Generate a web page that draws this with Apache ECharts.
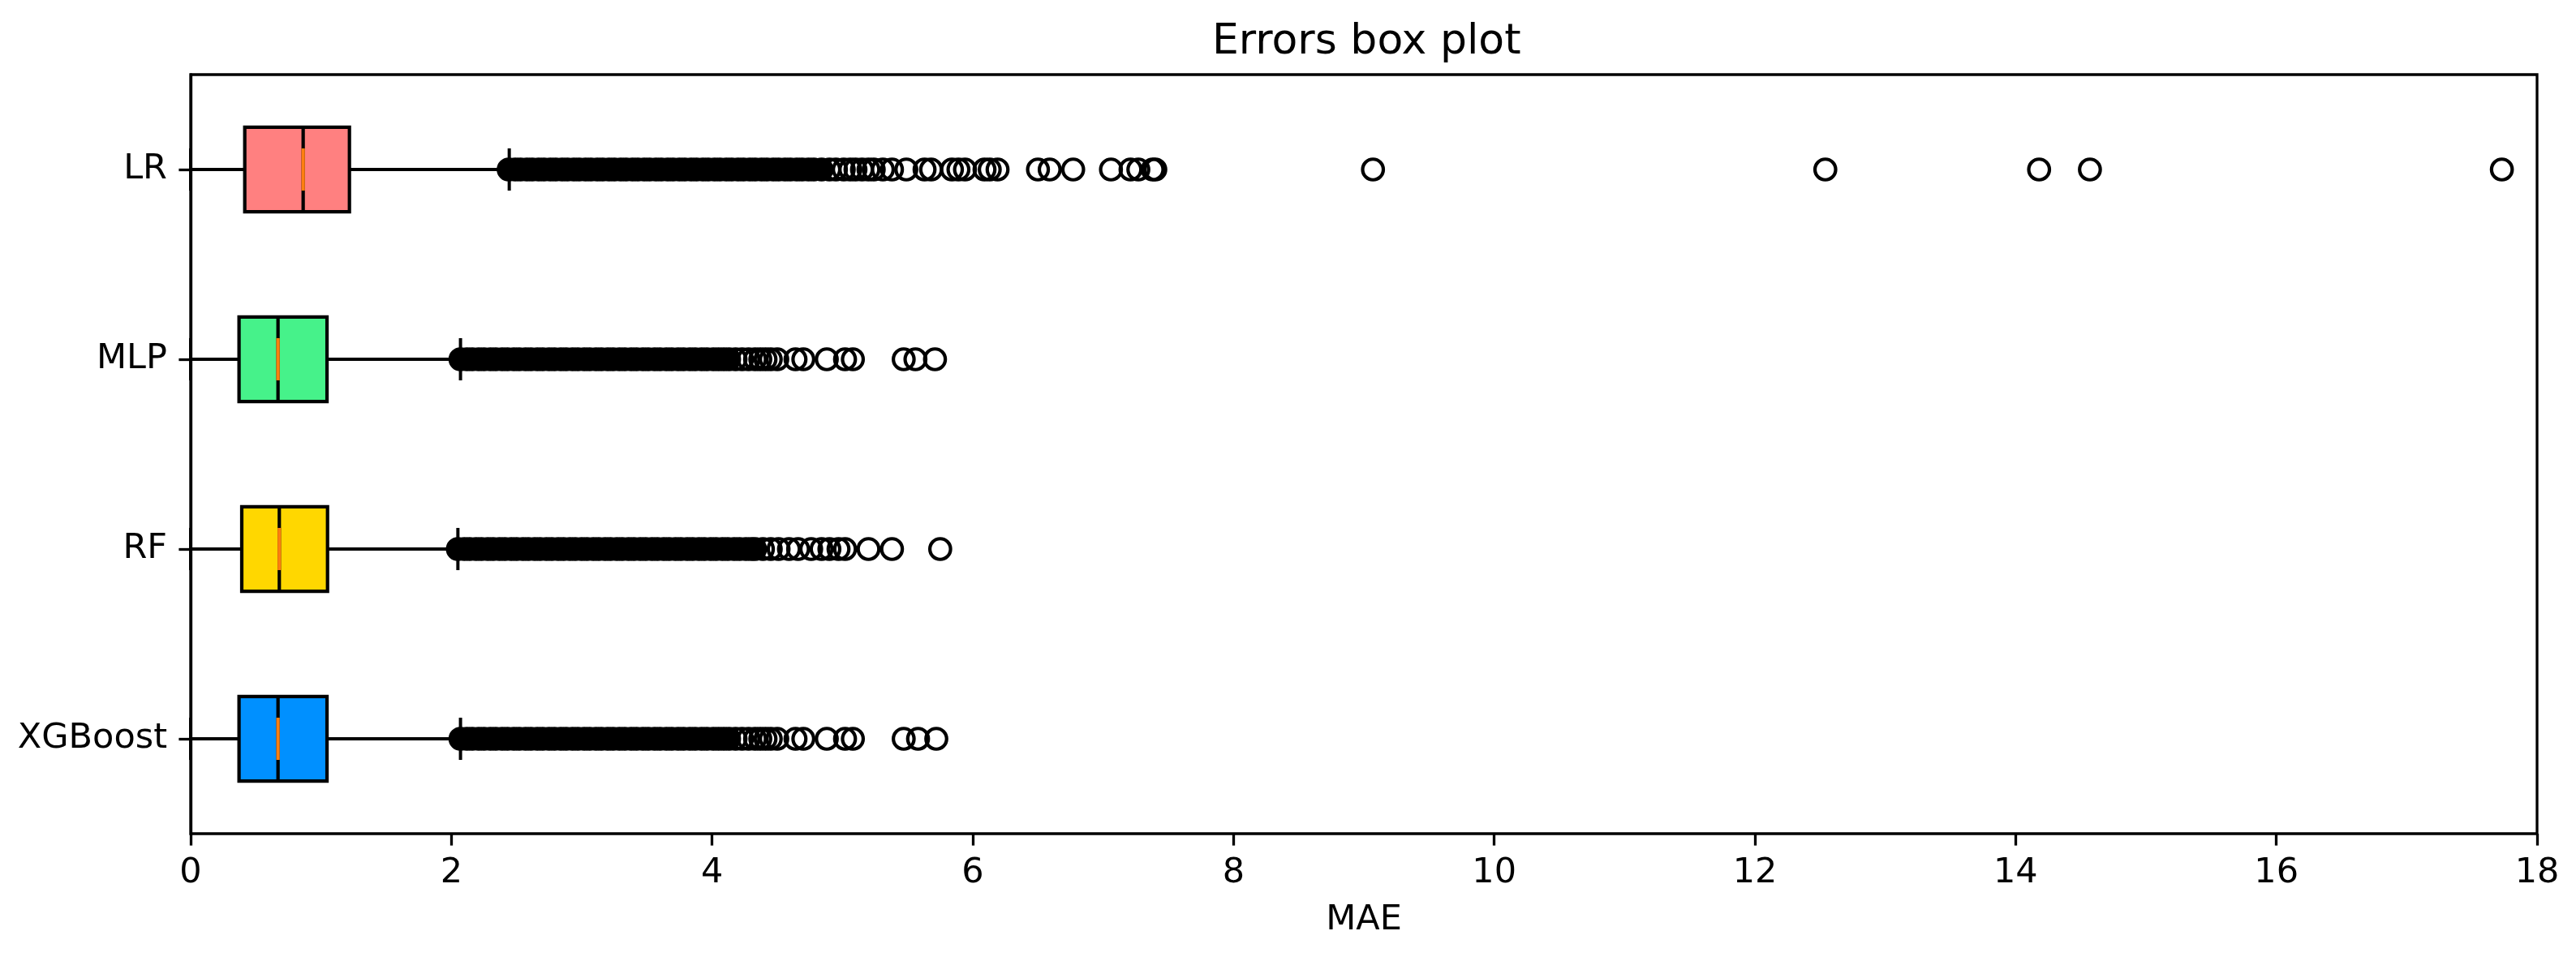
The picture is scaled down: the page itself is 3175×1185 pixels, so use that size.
<!DOCTYPE html>
<html>
<head>
<meta charset="utf-8">
<title>Errors box plot</title>
<script src="https://cdn.jsdelivr.net/npm/echarts@6/dist/echarts.min.js"></script>
<style>
  html, body { margin: 0; background: #fff; }
  #chart { width: 3175px; height: 1185px; }
</style>
</head>
<body>
<div id="chart"></div>
<script>
// categories, bottom to top
const models = ['XGBoost', 'RF', 'MLP', 'LR']
const boxColors = ['#0090ff', '#ffd700', '#46f28a', '#ff8080']
const xTicks = [0, 2, 4, 6, 8, 10, 12, 14, 16, 18]

// [min, q1, median, q3, max]
const xgbBox = [0, 0.371, 0.67, 1.046, 2.07]
const rfBox = [0, 0.392, 0.68, 1.05, 2.05]
const mlpBox = [0, 0.371, 0.67, 1.046, 2.07]
const lrBox = [0, 0.415, 0.863, 1.218, 2.444]

// outliers packed so tight they merge into a solid bar
const xgbDense = [2.07, 2.12, 2.16, 2.21, 2.25, 2.30, 2.34, 2.39, 2.43, 2.48, 2.52, 2.57, 2.61, 2.66, 2.70, 2.75, 2.79, 2.84, 2.88, 2.93, 2.97, 3.02, 3.06, 3.11, 3.15, 3.20, 3.24, 3.29, 3.33, 3.38, 3.42, 3.47, 3.51, 3.56, 3.60, 3.65, 3.69, 3.74, 3.78, 3.83, 3.87, 3.92, 3.96, 4.01, 4.05, 4.09, 4.13]
const rfDense = [2.05, 2.10, 2.14, 2.19, 2.23, 2.28, 2.32, 2.37, 2.41, 2.46, 2.50, 2.55, 2.59, 2.64, 2.68, 2.73, 2.77, 2.82, 2.86, 2.91, 2.95, 3.00, 3.04, 3.09, 3.13, 3.18, 3.22, 3.27, 3.31, 3.36, 3.40, 3.45, 3.49, 3.54, 3.58, 3.63, 3.67, 3.72, 3.76, 3.81, 3.85, 3.90, 3.94, 3.99, 4.03, 4.08, 4.12, 4.17, 4.21, 4.26, 4.30, 4.33]
const mlpDense = [2.07, 2.12, 2.16, 2.21, 2.25, 2.30, 2.34, 2.39, 2.43, 2.48, 2.52, 2.57, 2.61, 2.66, 2.70, 2.75, 2.79, 2.84, 2.88, 2.93, 2.97, 3.02, 3.06, 3.11, 3.15, 3.20, 3.24, 3.29, 3.33, 3.38, 3.42, 3.47, 3.51, 3.56, 3.60, 3.65, 3.69, 3.74, 3.78, 3.83, 3.87, 3.92, 3.96, 4.01, 4.05, 4.09, 4.13]
const lrDense = [2.44, 2.49, 2.53, 2.58, 2.62, 2.67, 2.71, 2.76, 2.80, 2.85, 2.89, 2.94, 2.98, 3.03, 3.07, 3.12, 3.16, 3.21, 3.25, 3.30, 3.34, 3.39, 3.43, 3.48, 3.52, 3.57, 3.61, 3.66, 3.70, 3.75, 3.79, 3.84, 3.88, 3.93, 3.97, 4.02, 4.06, 4.11, 4.15, 4.20, 4.24, 4.29, 4.33, 4.38, 4.42, 4.47, 4.51, 4.56, 4.60, 4.65, 4.69, 4.74, 4.78, 4.84]

// outliers still seen as separate rings
const xgbSparse = [4.18, 4.23, 4.28, 4.33, 4.37, 4.41, 4.45, 4.50, 4.64, 4.70, 4.88, 5.02, 5.08, 5.47, 5.58, 5.72]
const rfSparse = [4.39, 4.45, 4.51, 4.59, 4.66, 4.76, 4.84, 4.90, 4.97, 5.02, 5.20, 5.38, 5.75]
const mlpSparse = [4.18, 4.23, 4.28, 4.33, 4.37, 4.41, 4.45, 4.50, 4.64, 4.70, 4.88, 5.02, 5.08, 5.47, 5.56, 5.71]
const lrSparse = [4.90, 4.95, 5.01, 5.06, 5.10, 5.15, 5.20, 5.24, 5.31, 5.38, 5.49, 5.63, 5.68, 5.84, 5.89, 5.94, 6.09, 6.13, 6.19, 6.50, 6.59, 6.77, 7.06, 7.21, 7.27, 7.38, 7.40, 9.07, 12.54, 14.18, 14.57, 17.73]

const boxes = [xgbBox, rfBox, mlpBox, lrBox]
const dense = [xgbDense, rfDense, mlpDense, lrDense]
const sparse = [xgbSparse, rfSparse, mlpSparse, lrSparse]

const FONT = 'DejaVu Sans'

function toPoints(groups) {
  let out = []
  groups.forEach((list, i) => {
    list.forEach(v => out.push([v, models[i]]))
  })
  return out
}

function renderBox(params, api) {
  const i = api.value(0)
  const p = k => api.coord([api.value(k), i])
  const lo = p(1), q1 = p(2), med = p(3), q3 = p(4), hi = p(5)
  const band = api.size([0, 1])[1]
  const half = band * 0.445 / 2
  const cap = half / 2
  const y = med[1]
  const line = (x1, y1, x2, y2, color, w) => ({
    type: 'line',
    shape: { x1: x1, y1: y1, x2: x2, y2: y2 },
    style: { stroke: color, lineWidth: w }
  })
  return {
    type: 'group',
    children: [
      line(lo[0], y, q1[0], y, '#000', 4),
      line(q3[0], y, hi[0], y, '#000', 4),
      line(lo[0], y - cap, lo[0], y + cap, '#000', 4),
      line(hi[0], y - cap, hi[0], y + cap, '#000', 4),
      {
        type: 'rect',
        shape: { x: q1[0], y: y - half, width: q3[0] - q1[0], height: half * 2 },
        style: { fill: boxColors[i], stroke: '#000', lineWidth: 4.2 }
      },
      line(med[0], y - half, med[0], y + half, '#000', 4.2),
      line(med[0], y - cap, med[0], y + cap, '#ff7f0e', 4.2)
    ]
  }
}

const chart = echarts.init(document.getElementById('chart'))
chart.setOption({
  animation: false,
  backgroundColor: '#fff',
  title: {
    text: 'Errors box plot',
    left: 1489,
    top: 21,
    textStyle: { fontFamily: FONT, fontSize: 52, fontWeight: 'normal', color: '#000' }
  },
  grid: {
    left: 235, right: 48, top: 92, bottom: 157,
    show: true, borderColor: '#000', borderWidth: 3.3
  },
  xAxis: {
    type: 'value',
    min: xTicks[0],
    max: xTicks[xTicks.length - 1],
    interval: 2,
    name: 'MAE',
    nameLocation: 'middle',
    nameGap: 85,
    nameTextStyle: { fontFamily: FONT, fontSize: 43, color: '#000' },
    axisLine: { lineStyle: { color: '#000', width: 3.3 } },
    axisTick: { show: true, length: 14.6, lineStyle: { color: '#000', width: 3.3 } },
    axisLabel: { fontFamily: FONT, fontSize: 43, color: '#000', margin: 27 },
    splitLine: { show: false }
  },
  yAxis: {
    type: 'category',
    data: models,
    axisLine: { lineStyle: { color: '#000', width: 3.3 } },
    axisTick: { show: true, alignWithLabel: true, length: 14.6, lineStyle: { color: '#000', width: 3.3 } },
    axisLabel: { fontFamily: FONT, fontSize: 43, color: '#000', margin: 29 },
    splitLine: { show: false }
  },
  series: [
    {
      type: 'custom',
      renderItem: renderBox,
      encode: { x: [1, 2, 3, 4, 5], y: 0 },
      data: boxes.map((b, i) => [i].concat(b)),
      z: 2
    },
    {
      type: 'scatter',
      symbol: 'circle',
      symbolSize: 25.5,
      itemStyle: { color: '#000', borderColor: '#000', borderWidth: 4.2, opacity: 1 },
      data: toPoints(dense),
      z: 3
    },
    {
      type: 'scatter',
      symbol: 'circle',
      symbolSize: 25.5,
      itemStyle: { color: 'rgba(255,255,255,0)', borderColor: '#000', borderWidth: 4.2, opacity: 1 },
      data: toPoints(sparse),
      z: 3
    }
  ]
})
</script>
</body>
</html>
